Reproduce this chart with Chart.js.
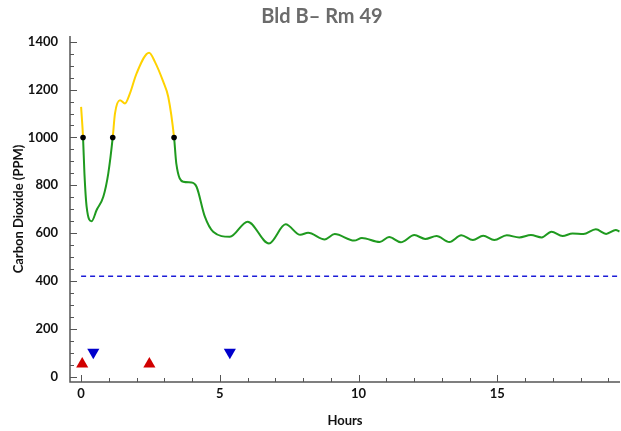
<!DOCTYPE html>
<html>
<head>
<meta charset="utf-8">
<title>Bld B– Rm 49</title>
<script src="https://cdn.jsdelivr.net/npm/chart.js@4.4.1/dist/chart.umd.min.js"></script>
<style>
  html, body { margin: 0; padding: 0; background: #fff; }
  #wrap { width: 621px; height: 431px; }
</style>
</head>
<body>
<div id="wrap"><canvas id="co2Chart" width="621" height="431"></canvas></div>
<script>
// CO2 readings (hours since start, ppm)
const hours = [0, 0.07, 0.12, 0.2, 0.38, 0.56, 0.8, 0.98, 1.14, 1.22, 1.4, 1.58, 1.76, 2.0, 2.45, 2.66, 2.96, 3.14, 3.35,
  3.43, 3.68, 3.98, 4.16, 4.46, 4.76, 5.36, 6.0, 6.77, 7.37, 7.9, 8.18, 8.78, 9.14, 9.84, 10.12, 10.76, 11.1, 11.52,
  12.01, 12.4, 12.81, 13.27, 13.7, 14.12, 14.49, 14.89, 15.34, 15.79, 16.21, 16.6, 16.95, 17.35, 17.71, 18.1, 18.55,
  18.92, 19.27, 19.4];
const co2 = [1128, 1000, 850, 710, 650, 697, 752, 850, 1000, 1100, 1156, 1142, 1184, 1268, 1354, 1316, 1233, 1170, 1000,
  892, 815, 812, 794, 669, 606, 585, 648, 557, 637, 593, 602, 574, 596, 569, 580, 563, 584, 562,
  592, 576, 588, 563, 591, 571, 589, 571, 591, 582, 592, 582, 606, 588, 599, 596, 616,
  597, 613, 607];

const threshold = 1000;
const outdoorLevel = 420;

// occupancy markers
const upHours = [0.04, 2.46];
const upValues = [53, 53];
const downHours = [0.44, 5.36];
const downValues = [102, 102];

const xTicks = [0, 5, 10, 15];
const yTicks = [0, 200, 400, 600, 800, 1000, 1200, 1400];
const xMinor = [0, 1, 2, 3, 4, 5, 6, 7, 8, 9, 10, 11, 12, 13, 14, 15, 16, 17, 18, 19];
const yMinorStep = 50;

const green = '#1f9a1f';
const yellow = '#ffd200';

const labelFont = { family: 'Lato', weight: 'bold', size: 13 };

const axisPlugin = {
  id: 'axisLines',
  beforeDatasetsDraw(chart) {
    const { ctx, chartArea, scales } = chart;
    const x = scales.x, y = scales.y;
    ctx.save();
    ctx.strokeStyle = '#555';
    ctx.lineWidth = 1.5;
    ctx.beginPath();
    ctx.moveTo(chartArea.left, chartArea.top);
    ctx.lineTo(chartArea.left, chartArea.bottom);
    ctx.lineTo(chartArea.right, chartArea.bottom);
    ctx.stroke();

    ctx.lineWidth = 1;
    ctx.beginPath();
    for (let v = 0; v <= yTicks[yTicks.length - 1]; v += yMinorStep) {
      const py = Math.round(y.getPixelForValue(v)) + 0.5;
      const len = yTicks.includes(v) ? 7 : 4;
      ctx.moveTo(chartArea.left, py);
      ctx.lineTo(chartArea.left + len, py);
    }
    xMinor.forEach(v => {
      const px = Math.round(x.getPixelForValue(v)) + 0.5;
      const len = xTicks.includes(v) ? 7 : 4;
      ctx.moveTo(px, chartArea.bottom);
      ctx.lineTo(px, chartArea.bottom - len);
    });
    ctx.stroke();
    ctx.restore();
  },
  afterDraw(chart) {
    const ctx = chart.ctx;
    ctx.save();
    ctx.font = 'bold 20px Lato';
    ctx.fillStyle = '#6b6b6b';
    ctx.textAlign = 'center';
    ctx.textBaseline = 'middle';
    ctx.fillText('Bld B– Rm 49', 322, 17);
    ctx.restore();
  }
};

new Chart(document.getElementById('co2Chart'), {
  type: 'line',
  data: {
    datasets: [
      {
        data: hours.map((h, i) => ({ x: h, y: co2[i] })),
        borderColor: green,
        borderWidth: 2,
        cubicInterpolationMode: 'monotone',
        segment: {
          borderColor: c => (c.p0.parsed.y >= threshold && c.p1.parsed.y >= threshold) ? yellow : green
        },
        pointRadius: c => (c.raw && c.raw.y === threshold) ? 2.8 : 0,
        pointBackgroundColor: '#000',
        pointBorderWidth: 0
      },
      {
        data: [{ x: 0, y: outdoorLevel }, { x: hours[hours.length - 1], y: outdoorLevel }],
        borderColor: '#1c1cd8',
        borderWidth: 1.5,
        borderDash: [5, 4],
        pointRadius: 0
      },
      {
        data: upHours.map((h, i) => ({ x: h, y: upValues[i] })),
        showLine: false,
        pointStyle: 'triangle',
        pointRadius: 7,
        pointBackgroundColor: '#d10000',
        pointBorderWidth: 0
      },
      {
        data: downHours.map((h, i) => ({ x: h, y: downValues[i] })),
        showLine: false,
        pointStyle: 'triangle',
        rotation: 180,
        pointRadius: 7,
        pointBackgroundColor: '#0000cc',
        pointBorderWidth: 0
      }
    ]
  },
  options: {
    responsive: false,
    animation: false,
    layout: { autoPadding: false, padding: { top: 36, right: 1, left: 0, bottom: 0 } },
    plugins: { legend: { display: false }, tooltip: { enabled: false } },
    scales: {
      x: {
        type: 'linear',
        min: -0.4,
        max: 19.42,
        grid: { display: false },
        border: { display: false },
        ticks: { font: labelFont, color: '#111', padding: -4, maxRotation: 0, callback: v => String(v) },
        afterBuildTicks: s => { s.ticks = xTicks.map(v => ({ value: v })); },
        afterFit: s => { s.height = 49; s.paddingLeft = 0; s.paddingRight = 0; },
        title: { display: true, text: 'Hours', font: labelFont, color: '#111', padding: { top: 0, bottom: 2 } }
      },
      y: {
        type: 'linear',
        min: -22,
        max: 1424,
        grid: { display: false },
        border: { display: false },
        ticks: { font: labelFont, color: '#111', padding: 4, callback: v => String(v) },
        afterBuildTicks: s => { s.ticks = yTicks.map(v => ({ value: v })); },
        afterFit: s => { s.width = 70; s.paddingTop = 0; s.paddingBottom = 0; },
        title: { display: true, text: 'Carbon Dioxide (PPM)', font: { family: 'Lato', weight: 'bold', size: 13 }, color: '#111', padding: { top: 11, bottom: 0 } }
      }
    }
  },
  plugins: [axisPlugin]
});
</script>
</body>
</html>
